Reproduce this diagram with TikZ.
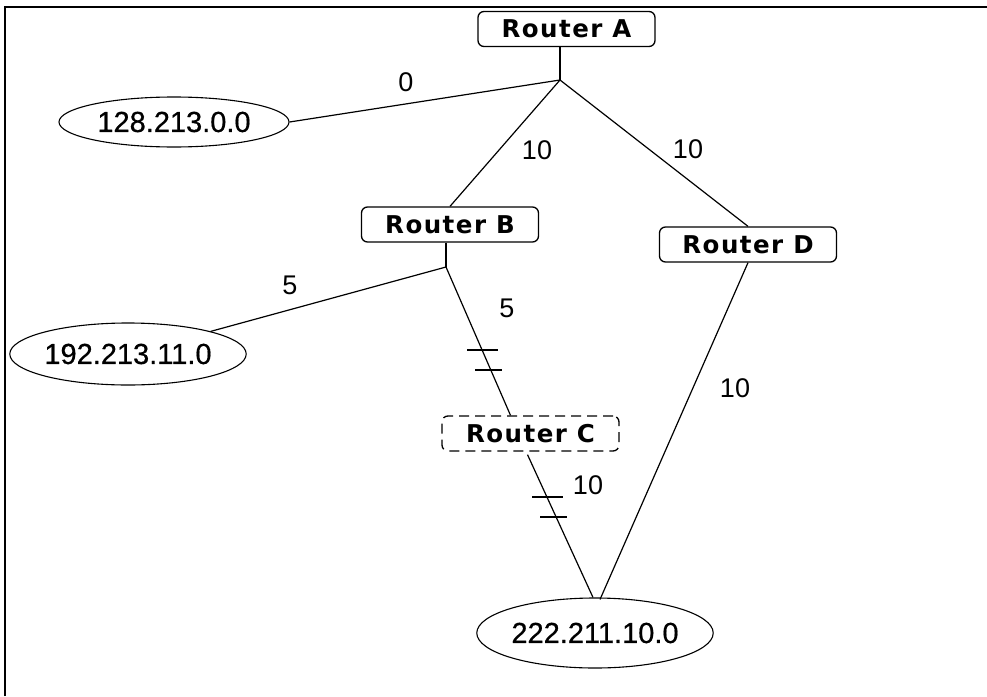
\documentclass[tikz,border=0pt]{standalone}
\usepackage{fontspec}
\setmainfont{Liberation Sans}
\newfontfamily\netfont[FakeBold=0.6]{Liberation Sans}
\newfontfamily\routerfont[LetterSpace=6]{DejaVu Sans}
\usetikzlibrary{shapes.geometric,calc}
\tikzset{
  router/.style={draw, line width=1.3pt, rounded corners=6pt, minimum width=177pt, minimum height=35pt, inner sep=0pt, font=\routerfont\bfseries\fontsize{24.5}{26}\selectfont},
  net/.style={draw, ellipse, line width=1.1pt, inner sep=0pt, font=\netfont\fontsize{29}{31}\selectfont},
  link/.style={line width=1.2pt},
  cost/.style={inner sep=0pt, font=\fontsize{27}{29}\selectfont},
  tick/.style={line width=1.4pt},
  frame/.style={line width=2pt}
}
\begin{document}
\begin{tikzpicture}[x=1pt,y=-1pt]
\useasboundingbox (0,0) rectangle (987,696);
% frame
\coordinate (f1) at (5,696);
\coordinate (f2) at (5,7);
\coordinate (f3) at (987,7);
\draw[frame] (f1) -- (f2) -- (f3);
% routers
\node[router] (A) at (566.5,29) {Router A};
\node[router] (B) at (450,224.5) {Router B};
\node[router] (D) at (748,244.5) {Router D};
\node[router, dashed, dash pattern=on 10pt off 6pt] (C) at (530.5,433.5) {Router C};
% networks
\node[net, minimum width=230pt, minimum height=50pt] (e1) at (174,122) {128.213.0.0};
\node[net, minimum width=233pt, minimum height=62pt] (e2) at (128,354) {192.213.11.0};
\node[net, minimum width=229pt, minimum height=70pt] (e3) at (595,633) {222.211.10.0};
% junctions
\coordinate (jA) at (560,80);
\coordinate (jB) at (446,267);
\draw[link] (A.south -| jA) -- (jA);
\draw[link] (B.south -| jB) -- (jB);
% links
\draw[link] (jA) -- (e1.east);
\draw[link] (jA) -- (B.north);
\draw[link] (jA) -- (D.north);
\draw[link] (jB) -- (e2);
\draw[link] (jB) -- ($(C.north)+(-20,0)$);
\draw[link] ($(C.south)+(-3,3)$) -- ($(e3.north)+(-2,0)$);
\draw[link] (D.south) -- ($(e3.north)+(5,2)$);
% ticks on B-C
\draw[tick] (467,350) -- (498,350);
\draw[tick] (475,370) -- (502,370);
% ticks on C-e3
\draw[tick] (532,497) -- (563,497);
\draw[tick] (540,517) -- (567,517);
% costs
\node[cost] (c1) at (406,82) {0};
\node[cost] (c2) at (537,150) {10};
\node[cost] (c3) at (688,149) {10};
\node[cost] (c4) at (290,285) {5};
\node[cost] (c5) at (507,308) {5};
\node[cost] (c6) at (588,485) {10};
\node[cost] (c7) at (735,388) {10};
\end{tikzpicture}
\end{document}
